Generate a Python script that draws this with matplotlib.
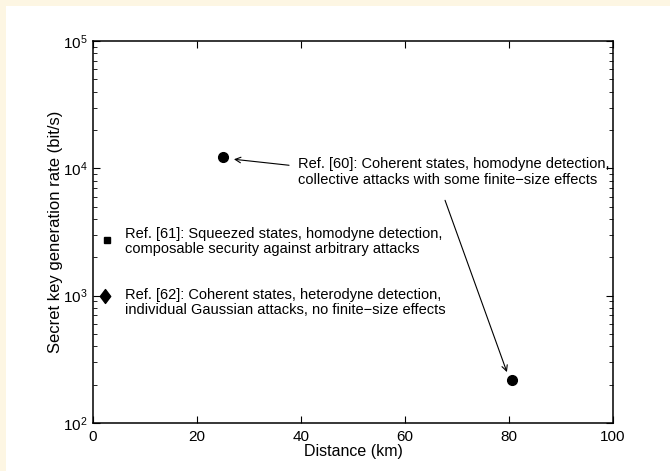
import numpy as np
import matplotlib
matplotlib.use('Agg')
import matplotlib.pyplot as plt
from matplotlib.patches import Rectangle

plt.rcParams['font.family'] = ['Liberation Sans', 'DejaVu Sans']
plt.rcParams['mathtext.fontset'] = 'custom'
plt.rcParams['mathtext.rm'] = 'Liberation Sans'

# data
coh_dist = [25.0, 80.5]
coh_rate = [1.22e4, 218.0]
sq_dist = [2.7]
sq_rate = [2750.0]
het_dist = [2.4]
het_rate = [1000.0]

x_ticks = [0, 20, 40, 60, 80, 100]
labels = {
    'ref60': 'Ref. [60]: Coherent states, homodyne detection,\n'
             'collective attacks with some finite\u2212size effects',
    'ref61': 'Ref. [61]: Squeezed states, homodyne detection,\n'
             'composable security against arbitrary attacks',
    'ref62': 'Ref. [62]: Coherent states, heterodyne detection,\n'
             'individual Gaussian attacks, no finite\u2212size effects',
}

cream = '#fdf6e3'
fig = plt.figure(figsize=(6.7, 4.71), dpi=100, facecolor=cream)
fig.patches.append(Rectangle((6 / 670, 0), 1, 1 - 6 / 471, transform=fig.transFigure,
                             facecolor='white', edgecolor='none', zorder=-1))

ax = fig.add_axes([93 / 670, 48 / 471, 520 / 670, 382 / 471])
ax.set_facecolor('white')

ax.plot(coh_dist, coh_rate, 'o', color='k', ms=7, linestyle='none')
ax.plot(sq_dist, sq_rate, 's', color='k', ms=5, linestyle='none')
diamond = [(-0.75, 0), (0, 1), (0.75, 0), (0, -1), (-0.75, 0)]
ax.plot(het_dist, het_rate, marker=diamond, color='k', ms=10, linestyle='none')

ax.set_yscale('log')
ax.set_xlim(0, 100)
ax.set_ylim(1e2, 1e5)
ax.set_xticks(x_ticks)
ax.set_yticks([1e2, 1e3, 1e4, 1e5])

for sp in ax.spines.values():
    sp.set_linewidth(1.1)

ax.tick_params(which='both', direction='in', top=True, right=True, labelsize=11, pad=4)
ax.tick_params(which='major', length=5, width=0.8)
ax.tick_params(which='minor', length=3, width=0.6)
ax.tick_params(axis='x', pad=5)

ax.set_xlabel('Distance (km)', fontsize=11.5, labelpad=0)
ax.set_ylabel('Secret key generation rate (bit/s)', fontsize=12, labelpad=0)

txt = dict(fontsize=10.5, va='center', ha='left', linespacing=1.15)
ax.text(39.4, 9400, labels['ref60'], **txt)
ax.text(6.2, 2655, labels['ref61'], **txt)
ax.text(6.2, 881, labels['ref62'], **txt)

arrow = dict(arrowstyle='->', lw=0.8, color='k', shrinkA=0, shrinkB=0)
ax.annotate('', xy=(27.1, 11780), xytext=(37.7, 10570), arrowprops=arrow)
ax.annotate('', xy=(79.6, 251), xytext=(67.7, 5610), arrowprops=arrow)

fig.savefig('out.png', dpi=100, facecolor=cream)
